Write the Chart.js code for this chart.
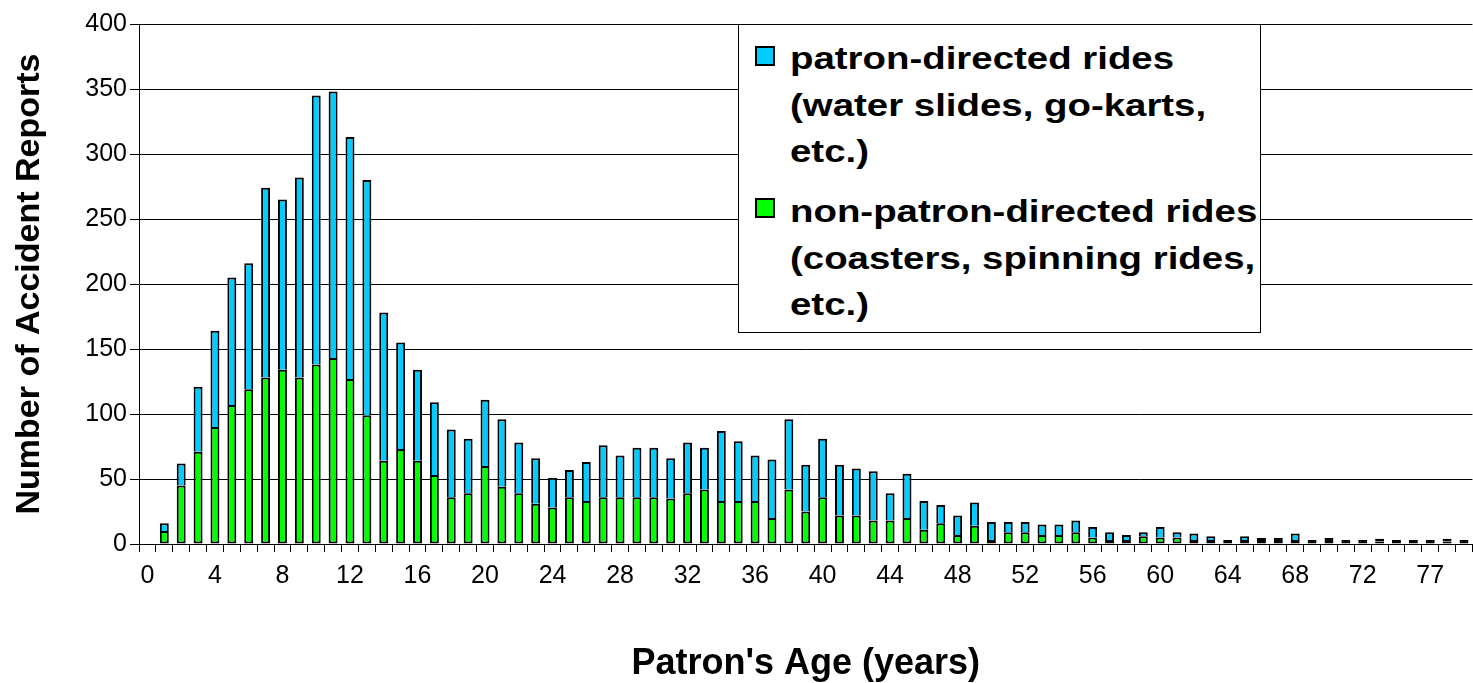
<!DOCTYPE html>
<html>
<head>
<meta charset="utf-8">
<title>Accident reports by patron age</title>
<script src="https://cdn.jsdelivr.net/npm/chart.js@4.4.1/dist/chart.umd.min.js"></script>
<style>
  html, body { margin: 0; padding: 0; background: #fff; overflow: hidden; }
  #wrap { position: relative; width: 1473px; height: 683px; }
  #legend {
    position: absolute; left: 738px; top: 24px; width: 523px; height: 309px;
    box-sizing: border-box; border: 1px solid #000; background: #fff;
    font-family: "Liberation Sans", Arial, sans-serif; font-weight: bold; color: #000;
  }
  #legend .box { position: absolute; left: 16px; width: 20px; height: 20px; box-sizing: border-box; border: 2px solid #000; }
  #legend .text {
    position: absolute; left: 51px; font-size: 32px; line-height: 46.5px; white-space: nowrap;
    transform: scaleX(1.2); transform-origin: 0 0;
  }
</style>
</head>
<body>
<div id="wrap">
  <canvas id="chart1" width="1473" height="683"></canvas>
  <div id="legend"></div>
</div>
<script>
  "use strict";

  // ages on the x axis (no 76 in the source table)
  var ages = [0, 1, 2, 3, 4, 5, 6, 7, 8, 9, 10, 11, 12, 13, 14, 15, 16, 17, 18, 19,
    20, 21, 22, 23, 24, 25, 26, 27, 28, 29, 30, 31, 32, 33, 34, 35, 36, 37, 38, 39,
    40, 41, 42, 43, 44, 45, 46, 47, 48, 49, 50, 51, 52, 53, 54, 55, 56, 57, 58, 59,
    60, 61, 62, 63, 64, 65, 66, 67, 68, 69, 70, 71, 72, 73, 74, 75, 77, 78, 79];

  // ages that get a tick label
  var shownAges = [0, 4, 8, 12, 16, 20, 24, 28, 32, 36, 40, 44, 48, 52, 56, 60, 64, 68, 72, 77];

  // y axis
  var yTicks = [0, 50, 100, 150, 200, 250, 300, 350, 400];

  // non-patron-directed rides (bottom, green) - nothing reported at age 0
  var nonPatronDirected = [null, 10, 45, 71, 90, 107, 119, 128, 134, 128,
    138, 143, 127, 99, 64, 73, 64, 53, 36, 39,
    60, 44, 39, 31, 28, 36, 33, 36, 36, 36,
    36, 35, 39, 42, 33, 33, 33, 20, 42, 25,
    36, 22, 22, 18, 18, 20, 11, 16, 7, 14,
    3, 9, 9, 7, 7, 9, 5, 3, 3, 6,
    5, 5, 3, 3, 1, 3, 3, 3, 3, 1,
    3, 1, 1, 2, 1, 1, 1, 2, 1];

  // patron-directed rides (top, blue)
  var patronDirected = [null, 6, 17, 50, 74, 98, 97, 146, 131, 154,
    207, 205, 186, 181, 114, 82, 70, 56, 52, 42,
    51, 52, 39, 35, 23, 21, 30, 40, 32, 38,
    38, 31, 39, 32, 54, 46, 35, 45, 54, 36,
    45, 39, 36, 38, 21, 34, 22, 14, 15, 18,
    14, 8, 8, 8, 8, 9, 8, 6, 4, 3,
    8, 4, 5, 3, 1, 3, 1, 1, 5, 1,
    1, 1, 1, 2, 1, 1, 1, 2, 1];

  var patronLabel = ['patron-directed rides', '(water slides, go-karts,', 'etc.)'];
  var nonPatronLabel = ['non-patron-directed rides', '(coasters, spinning rides,', 'etc.)'];

  var fontFamily = "'Liberation Sans', Arial, sans-serif";

  // very thin segments come out as solid black, as in the original
  function segmentFill(color) {
    return function (c) {
      return c.raw > 0 && c.raw < 3 ? '#000' : color;
    };
  }


  // chart1
  var ctx = document.getElementById('chart1').getContext('2d');

  var myChart = new Chart(ctx, {
    type: 'bar',
    data: {
      labels: ages,
      datasets: [{
        label: nonPatronLabel.join(' '),
        data: nonPatronDirected,
        legendColor: '#00ff00',
        backgroundColor: segmentFill('#00ff00'),
        borderColor: '#000',
        borderWidth: 2,
        borderSkipped: false,
        minBarLength: 2,
        barPercentage: 0.53,
        categoryPercentage: 1
      },
      {
        label: patronLabel.join(' '),
        data: patronDirected,
        legendColor: '#00ccff',
        backgroundColor: segmentFill('#00ccff'),
        borderColor: '#000',
        borderWidth: 2,
        borderSkipped: 'start',
        minBarLength: 2,
        barPercentage: 0.53,
        categoryPercentage: 1
      }]
    },
    options: {
      responsive: false,
      animation: false,
      layout: {
        padding: { top: 24, right: 0, bottom: 0, left: 0 }
      },
      plugins: {
        legend: { display: false },
        tooltip: { enabled: false }
      },
      scales: {
        x: {
          stacked: true,
          grid: {
            offset: true,
            drawOnChartArea: false,
            color: '#000',
            tickLength: 8
          },
          border: { color: '#000' },
          ticks: {
            autoSkip: false,
            maxRotation: 0,
            color: '#000',
            padding: 9,
            font: { family: fontFamily, size: 25 },
            callback: function (val, index) {
              return shownAges.indexOf(ages[index]) > -1 ? String(ages[index]) : '';
            }
          },
          title: {
            display: true,
            text: "Patron's Age (years)",
            color: '#000',
            font: { family: fontFamily, size: 36, weight: 'bold', lineHeight: 1 },
            padding: { top: 0, bottom: 1 }
          },
          afterFit: function (scale) {
            scale.height = 139;
          }
        },
        y: {
          stacked: true,
          min: yTicks[0],
          max: yTicks[yTicks.length - 1],
          grid: {
            color: '#000',
            tickLength: 9
          },
          border: { color: '#000' },
          ticks: {
            stepSize: yTicks[1] - yTicks[0],
            color: '#000',
            padding: 3,
            font: { family: fontFamily, size: 25 }
          },
          title: {
            display: true,
            text: 'Number of Accident Reports',
            color: '#000',
            font: { family: fontFamily, size: 34, weight: 'bold', lineHeight: 1 },
            padding: { top: 13, bottom: 0 }
          },
          afterFit: function (scale) {
            scale.width = 139;
          }
        }
      }
    }
  });


  // legend (multi-line entries, blue first)
  var legend = document.getElementById('legend');
  var legendLines = [patronLabel, nonPatronLabel];
  var legendDatasets = [myChart.data.datasets[1], myChart.data.datasets[0]];
  var boxTops = [21, 173];
  var textTops = [10, 163];

  legendDatasets.forEach(function (ds, i) {
    var box = document.createElement('div');
    box.className = 'box';
    box.style.top = boxTops[i] + 'px';
    box.style.background = ds.legendColor;
    legend.appendChild(box);

    var text = document.createElement('div');
    text.className = 'text';
    text.style.top = textTops[i] + 'px';
    text.innerHTML = legendLines[i].join('<br>');
    legend.appendChild(text);
  });
</script>
</body>
</html>
